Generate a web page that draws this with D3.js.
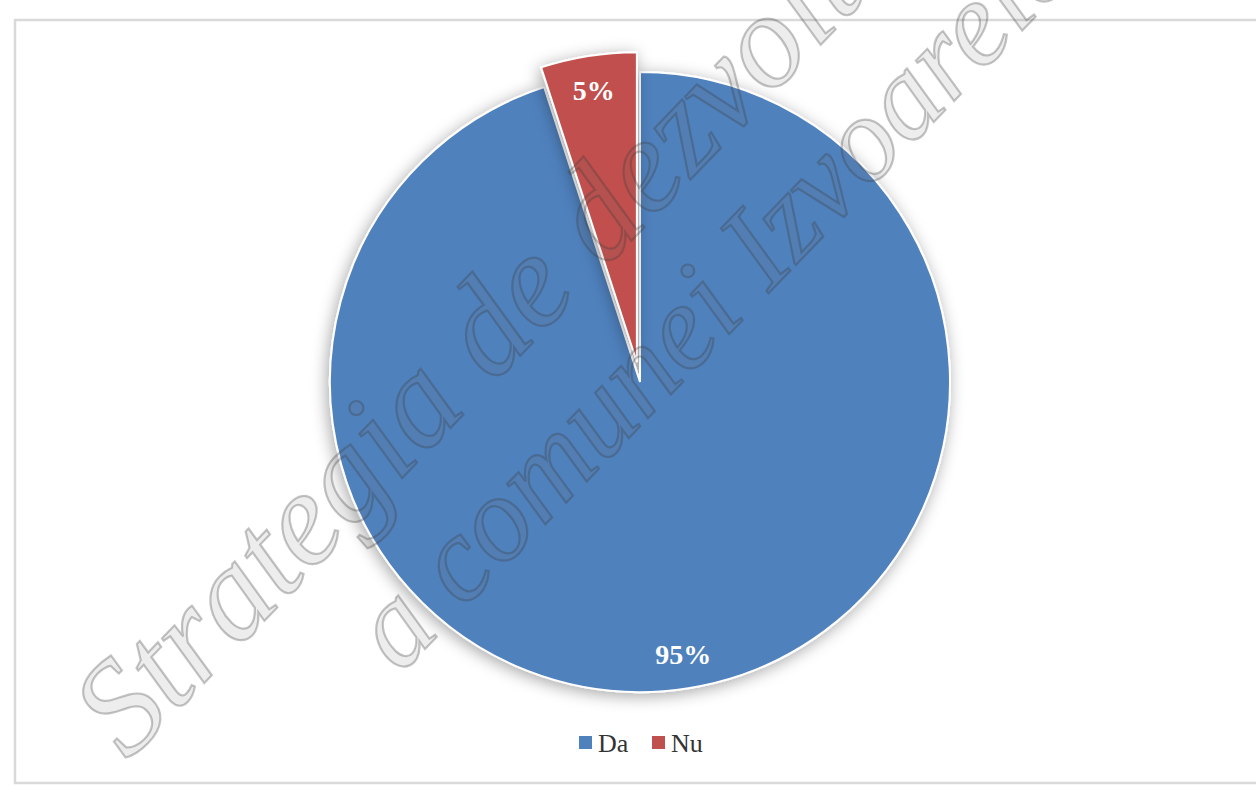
<!DOCTYPE html>
<html>
<head>
<meta charset="utf-8">
<script src="https://cdn.jsdelivr.net/npm/d3@7"></script>
<style>
html,body{margin:0;padding:0;background:#fff;}
svg{display:block;}
</style>
</head>
<body>
<svg id="chart" width="1256" height="786"></svg>
<script>
const categories = ["Da", "Nu"];
const values = [95, 5];
const labels = ["95%", "5%"];
const colors = ["#4F81BD", "#C0504D"];
const watermarkLines = ["Strategia de dezvoltare", "a comunei Izvoarele"];

const svg = d3.select("#chart");
const cx = 640, cy = 382, R = 310;
const explode = [0, 20];

// frame
svg.append("rect").attr("x", 15).attr("y", 20).attr("width", 1270).attr("height", 763)
  .attr("fill", "#fff").attr("stroke", "#d9d9d9").attr("stroke-width", 2.5);

const defs = svg.append("defs");
const f = defs.append("filter").attr("id", "glow").attr("x", "-20%").attr("y", "-20%").attr("width", "140%").attr("height", "140%");
f.append("feDropShadow").attr("dx", -2).attr("dy", 3).attr("stdDeviation", 8)
  .attr("flood-color", "#000").attr("flood-opacity", 0.35);

const pie = d3.pie().sort(null).value(d => d)(values);
const arc = d3.arc().innerRadius(0).outerRadius(R);
const labelArc = d3.arc().innerRadius(R * 0.89).outerRadius(R * 0.89);

const g = svg.append("g").attr("transform", `translate(${cx},${cy})`);
const slices = g.selectAll("g.slice").data(pie).enter().append("g")
  .attr("class", "slice")
  .attr("transform", (d, i) => {
    const a = (d.startAngle + d.endAngle) / 2;
    return `translate(${Math.sin(a) * explode[i]},${-Math.cos(a) * explode[i]})`;
  });
slices.append("path").attr("d", arc)
  .attr("fill", (d, i) => colors[i])
  .attr("stroke", "#fff").attr("stroke-width", 2)
  .attr("filter", "url(#glow)");
slices.append("text")
  .attr("transform", d => `translate(${labelArc.centroid(d)})`)
  .attr("text-anchor", "middle").attr("dy", "0.35em")
  .attr("font-family", "Liberation Serif, serif").attr("font-weight", "bold")
  .attr("font-size", 28).attr("fill", "#fff")
  .text((d, i) => labels[i]);

// legend
const legend = svg.append("g").attr("transform", "translate(579,736)");
const items = [0, 73];
categories.forEach((c, i) => {
  const it = legend.append("g").attr("transform", `translate(${items[i]},0)`);
  it.append("rect").attr("width", 13).attr("height", 13).attr("fill", colors[i]);
  it.append("text").attr("x", 19).attr("y", 16)
    .attr("font-family", "Liberation Serif, serif").attr("font-size", 26)
    .attr("fill", "#333").text(c);
});

// watermark
const wmPos = [[128, 762], [400, 675]];
const wmRot = [-46, -46];
const wmSize = [134, 121];
watermarkLines.forEach((t, i) => {
  svg.append("text")
    .attr("transform", `translate(${wmPos[i][0]},${wmPos[i][1]}) rotate(${wmRot[i]})`)
    .attr("font-family", "Liberation Serif, serif").attr("font-style", "italic")
    .attr("font-size", wmSize[i])
    .attr("fill", "rgba(110,110,110,0.12)")
    .attr("stroke", "rgba(60,60,60,0.3)").attr("stroke-width", 2.2)
    .text(t);
});
</script>
</body>
</html>
